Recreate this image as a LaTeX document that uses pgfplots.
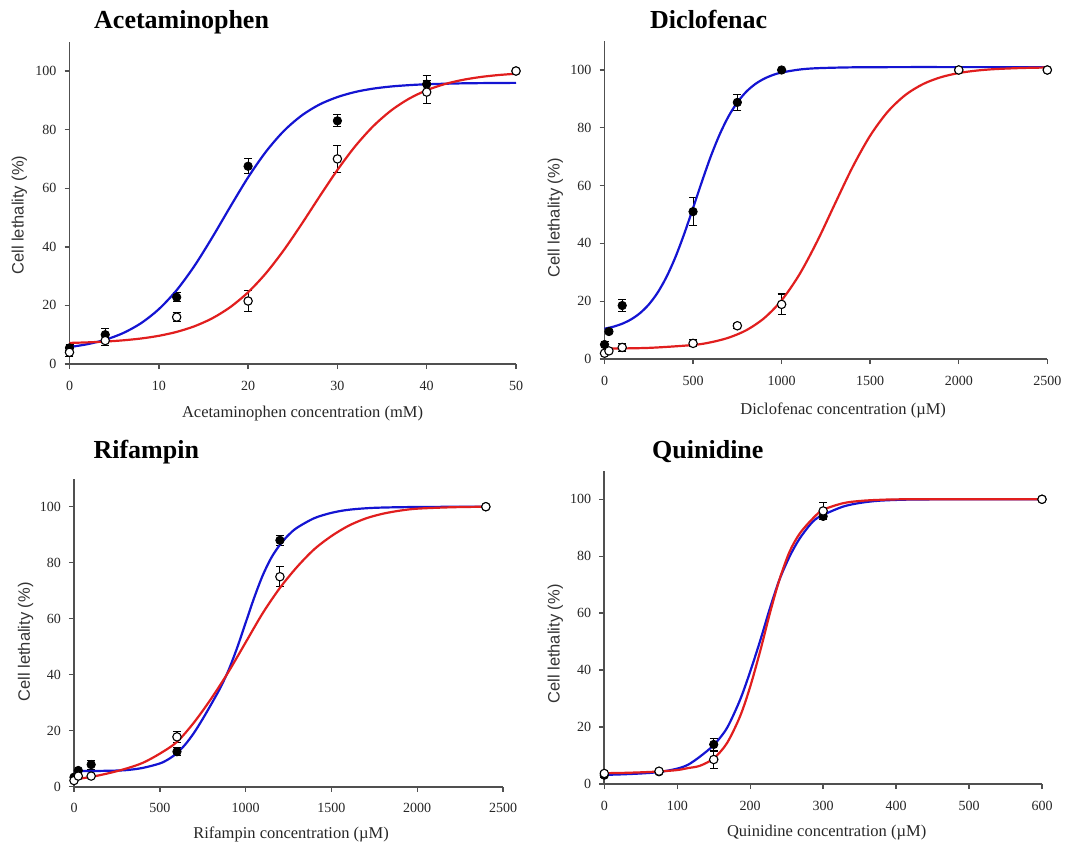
\documentclass[border=0pt]{standalone}
\usepackage{pgfplots}
\pgfplotsset{compat=1.18}
\usepackage{fontspec}
\setmainfont{Liberation Serif}
\newfontfamily\arialf{Liberation Sans}
\definecolor{cblue}{RGB}{20,20,210}
\definecolor{cred}{RGB}{225,30,30}
\definecolor{axgray}{RGB}{80,80,80}
\pgfplotsset{
  panel/.style={
    scale only axis, clip=false, anchor=south west,
    axis x line=bottom, axis y line=left,
    axis line style={-, axgray, line width=1.9pt},
    tick align=outside, major tick length=5pt,
    tick style={axgray, line width=1.4pt},
    ymin=0, ymax=110, ytick={0,20,...,100},
    tick label style={font=\fontsize{14}{16}\selectfont, text=black!85, inner sep=0pt},
    xticklabel style={anchor=base, yshift=-21pt},
    yticklabel style={anchor=east, xshift=-8pt},
    /pgf/number format/assume math mode=true,
    /pgf/number format/set thousands separator={},
    every axis x label/.style={font=\fontsize{16.5}{19}\selectfont, text=black!85, anchor=base},
    every axis y label/.style={font=\arialf\fontsize{16.5}{19}\selectfont, text=black!80, rotate=90, anchor=center},
  },
  fillpt/.style={only marks, mark=*, mark size=4.2pt,
    mark options={fill=black, draw=black, line width=0.8pt},
    error bars/.cd, y dir=both, y explicit,
    error bar style={black, line width=1.1pt},
    error mark options={rotate=90, mark size=4pt, black, line width=1.1pt}},
  openpt/.style={only marks, mark=*, mark size=4.2pt,
    mark options={fill=white, draw=black, line width=1.1pt},
    error bars/.cd, y dir=both, y explicit,
    error bar style={black, line width=1.1pt},
    error mark options={rotate=90, mark size=4pt, black, line width=1.1pt}},
  bcurve/.style={cblue, line width=2.2pt, smooth, no marks},
  rcurve/.style={cred, line width=2.2pt, smooth, no marks},
}
\begin{document}
\begin{tikzpicture}
\path[use as bounding box] (0,0) rectangle (1070pt,-845pt);

% ---------------- Acetaminophen ----------------
\begin{axis}[panel, at={(69.5pt,-364pt)}, width=446.5pt, height=322.3pt,
  xmin=0, xmax=50, xtick={0,10,...,50},
  xlabel={Acetaminophen concentration (mM)}, ylabel={Cell lethality (\%)},
  xlabel style={at={(axis description cs:0.522,-0.1675)}},
  ylabel style={at={(axis description cs:-0.1124,0.462)}}]
\addplot[fillpt] table[y error=e] {
x y e
0 5.5 1
4 10 2
12 22.8 1.5
20 67.5 2.5
30 83 2
40 95.5 3
50 100 0
};
\addplot[openpt] table[y error=e] {
x y e
0 4 1.5
4 8 1.8
12 16 1.5
20 21.5 3.5
30 70 4.5
40 92.8 4
50 100 0
};
\addplot[bcurve] table {
x y
0 5.77
2 6.76
4 8.27
6 10.55
8 13.91
10 18.71
12 25.2
14 33.52
16 43.27
18 53.65
20 63.7
22 72.47
24 79.53
26 84.81
28 88.57
30 91.1
32 92.85
34 93.98
36 94.71
38 95.17
40 95.47
44 95.79
48 95.91
50 95.95
};
\addplot[rcurve] table {
x y
0 7.19
2 7.38
4 7.66
6 8.08
8 8.70
10 9.62
12 10.96
14 12.89
16 15.62
18 19.41
20 24.48
22 30.99
24 38.87
26 47.79
28 57.15
30 66.22
32 74.34
34 81.13
36 86.48
38 90.51
40 93.44
42 95.51
44 96.95
46 97.94
48 98.61
50 99.07
};
\end{axis}

% ---------------- Diclofenac ----------------
\begin{axis}[panel, at={(604.5pt,-359pt)}, width=442.8pt, height=317.9pt,
  xmin=0, xmax=2500, xtick={0,500,...,2500},
  xlabel={Diclofenac concentration (µM)}, ylabel={Cell lethality (\%)},
  xlabel style={at={(axis description cs:0.539,-0.176)}},
  ylabel style={at={(axis description cs:-0.111,0.4435)}}]
\addplot[fillpt] table[y error=e] {
x y e
0 5 1
25 9.5 0.6
100 18.5 2
500 51 4.9
750 88.8 2.7
1000 100 0
2000 100 0
2500 100 0
};
\addplot[openpt] table[y error=e] {
x y e
0 2 0
25 2.8 0.6
100 4 1.5
500 5.4 1.2
750 11.5 0.8
1000 18.9 3.6
2000 100 0
2500 100 0
};
\addplot[bcurve] table {
x y
0 10.47
50 11.18
100 12.21
150 13.71
200 15.85
250 18.86
300 22.97
350 28.40
400 35.2
450 43.30
500 52.25
550 61.40
600 70.1
650 77.68
700 83.94
750 88.8
800 92.46
850 95.09
900 96.95
950 98.25
1000 99.13
1100 100.15
1200 100.62
1400 100.92
1700 101.0
2000 101.0
2500 101.0
};
\addplot[rcurve] table {
x y
0 3.59
250 3.85
500 4.85
600 5.78
700 7.36
800 9.94
900 14.06
1000 20.32
1100 29.21
1200 40.62
1300 53.57
1400 66.34
1500 77.29
1600 85.63
1700 91.42
1800 95.18
1900 97.52
2000 98.95
2100 99.79
2200 100.29
2350 100.68
2500 100.86
};
\end{axis}

% ---------------- Rifampin ----------------
\begin{axis}[panel, at={(74pt,-786.7pt)}, width=429pt, height=308pt,
  xmin=0, xmax=2500, xtick={0,500,...,2500},
  xlabel={Rifampin concentration (µM)}, ylabel={Cell lethality (\%)},
  xlabel style={at={(axis description cs:0.506,-0.1666)}},
  ylabel style={at={(axis description cs:-0.1126,0.47)}}]
\addplot[fillpt] table[y error=e] {
x y e
0 3.4 0.5
25 5.8 0.5
100 7.9 1.6
600 12.5 1.5
1200 88 1.8
2400 100 0
};
\addplot[openpt] table[y error=e] {
x y e
0 2.2 0.5
25 3.8 0.5
100 3.8 0.5
600 17.8 2
1200 75 3.6
2400 100 0
};
\addplot[bcurve] table {
x y
0 5.6
100 5.6
200 5.7
300 5.9
400 6.7
500 8.3
550 9.8
600 12
650 15.2
700 19.3
750 24.2
800 29.5
850 35
900 41.5
950 49.5
1000 58.5
1050 67.5
1100 75.5
1150 81.8
1200 86.4
1250 89.9
1300 92.5
1400 95.9
1500 97.8
1600 98.9
1750 99.6
2000 99.9
2400 100
};
\addplot[rcurve] table {
x y
0 2.6
100 3.5
200 4.8
300 6.4
400 8.5
500 11.8
600 16
700 23
800 31.5
900 41
1000 51.5
1100 62
1200 71
1300 78.5
1400 84.8
1500 89.5
1600 93.2
1700 95.8
1800 97.5
1900 98.6
2000 99.3
2200 99.8
2400 100
};
\end{axis}

% ---------------- Quinidine ----------------
\begin{axis}[panel, at={(604.3pt,-784pt)}, width=437.7pt, height=313.2pt,
  xmin=0, xmax=600, xtick={0,100,...,600},
  xlabel={Quinidine concentration (µM)}, ylabel={Cell lethality (\%)},
  xlabel style={at={(axis description cs:0.508,-0.166)}},
  ylabel style={at={(axis description cs:-0.112,0.447)}}]
\addplot[fillpt] table[y error=e] {
x y e
0 3.1 0.8
75 4.3 0.4
150 13.9 2
300 94 1.2
600 100 0
};
\addplot[openpt] table[y error=e] {
x y e
0 3.7 0.6
75 4.5 0.4
150 8.6 3
300 95.9 3
600 100 0
};
\addplot[bcurve] table {
x y
0 3.2
25 3.4
50 3.7
75 4.2
100 5.4
115 6.8
131 9.6
150 13.7
168 19.6
186 29.5
200 39.5
214 50.6
227 61.7
240 71.7
254 79.9
268 86.3
286 92.2
300 94.5
327 97.4
350 98.7
377 99.5
420 99.9
500 100
600 100
};
\addplot[rcurve] table {
x y
0 3.8
25 3.9
50 4.1
75 4.4
100 4.9
115 5.6
131 6.4
150 9
168 14.3
186 23.7
200 34.2
214 47
227 60
240 71.7
254 81.6
268 88
286 93.3
300 96.3
327 98.6
350 99.4
377 99.8
420 100
600 100
};
\end{axis}

% ---------------- Titles ----------------
\node[anchor=base west, inner sep=0pt, font=\fontsize{26}{30}\selectfont\bfseries] at (94pt,-28.9pt) {Acetaminophen};
\node[anchor=base west, inner sep=0pt, font=\fontsize{26}{30}\selectfont\bfseries] at (650pt,-28.9pt) {Diclofenac};
\node[anchor=base west, inner sep=0pt, font=\fontsize{26}{30}\selectfont\bfseries] at (93.3pt,-458pt) {Rifampin};
\node[anchor=base west, inner sep=0pt, font=\fontsize{26}{30}\selectfont\bfseries] at (652pt,-458pt) {Quinidine};
\end{tikzpicture}
\end{document}
